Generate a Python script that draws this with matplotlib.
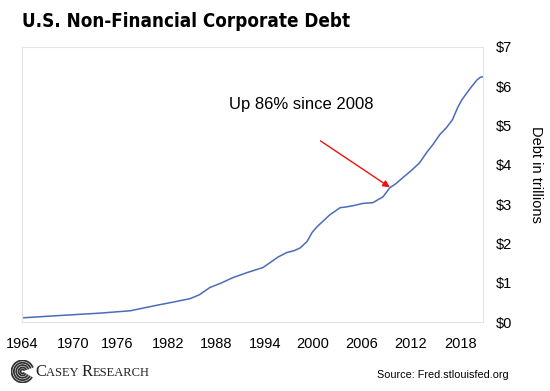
import matplotlib
matplotlib.use("Agg")
import matplotlib.pyplot as plt
from matplotlib.patches import Arc
from matplotlib.offsetbox import TextArea, HPacker, AnchoredOffsetbox

# debt in trillions of dollars
years = [1964.0, 1968.5, 1973.2, 1976.8, 1979.7, 1982.1, 1983.9, 1985.0, 1986.2,
         1987.6, 1988.9, 1990.6, 1992.5, 1993.3, 1994.3, 1995.3, 1996.2, 1996.9,
         1997.7, 1998.3, 1998.9, 2000.4, 2001.6, 2002.3, 2003.1, 2004.3, 2005.5,
         2006.7, 2007.5, 2008.2, 2009.0, 2010.0, 2011.0, 2011.9, 2012.6, 2013.4,
         2014.2, 2014.9, 2015.5, 2016.0, 2016.6, 2017.2, 2017.8, 2018.2, 2018.5]
debt = [0.11, 0.17, 0.23, 0.29, 0.42, 0.52, 0.60, 0.70, 0.88,
        1.00, 1.13, 1.26, 1.39, 1.51, 1.66, 1.77, 1.82, 1.89,
        2.05, 2.28, 2.43, 2.73, 2.91, 2.93, 2.96, 3.02, 3.04,
        3.19, 3.42, 3.52, 3.67, 3.85, 4.05, 4.33, 4.52, 4.77,
        4.95, 5.15, 5.45, 5.65, 5.83, 6.00, 6.16, 6.23, 6.24]

xlabels = ['1964', '1970', '1976', '1982', '1988', '1994', '2000', '2006', '2012', '2018']
xtick_pos = [1964.0, 1970.0, 1975.3, 1981.3, 1987.0, 1992.7, 1998.4, 2004.2, 2009.9, 2015.8]
yticks = [0, 1, 2, 3, 4, 5, 6, 7]

plt.rcParams['font.family'] = ['Liberation Sans', 'DejaVu Sans']

fig = plt.figure(figsize=(5.5, 3.91), dpi=100)
ax = fig.add_axes([0.04, 0.176, 0.838, 0.704])

ax.plot(years, debt, color='#4a6cb8', lw=1.1)

ax.set_xlim(1964, 2018.5)
ax.set_ylim(0, 7)
ax.set_xticks(xtick_pos)
ax.set_xticklabels(xlabels, fontsize=10.5)
ax.set_yticks(yticks)
ax.set_yticklabels(['$%d' % v for v in yticks], fontsize=10.5)
ax.yaxis.tick_right()
ax.tick_params(length=0, axis='y', pad=9)
ax.tick_params(length=0, axis='x', pad=11)
for s in ax.spines.values():
    s.set_color('#e4e4e4')
    s.set_linewidth(0.8)

fig.text(0.975, 0.555, 'Debt in trillions', rotation=-90, fontsize=10.5,
         ha='center', va='center')

# annotation
ax.annotate('Up 86% since 2008', xy=(2007.3, 3.35), xytext=(1997.0, 5.53),
            fontsize=12, ha='center', va='center')
ax.annotate('', xy=(2007.5, 3.43), xytext=(1999.3, 4.61),
            arrowprops=dict(arrowstyle='-|>', color='#ee1111', lw=1.0,
                            mutation_scale=10, shrinkA=0, shrinkB=0))

fig.text(0.04, 0.946, 'U.S. Non-Financial Corporate Debt', fontsize=13.5,
         fontweight='bold', ha='left', va='center',
         family='DejaVu Sans', fontstretch='condensed')

fig.text(0.925, 0.041, 'Source: Fred.stlouisfed.org', fontsize=7.8,
         ha='right', va='center')

# Casey Research logo
big = dict(fontsize=12, family='Liberation Serif', color='#222222')
small = dict(fontsize=9, family='Liberation Serif', color='#222222')
parts = [TextArea('C', textprops=big), TextArea('ASEY ', textprops=small),
         TextArea('R', textprops=big), TextArea('ESEARCH', textprops=small)]
box = HPacker(children=parts, align='baseline', pad=0, sep=0)
anchored = AnchoredOffsetbox(loc='center left', child=box, frameon=False,
                             bbox_to_anchor=(0.064, 0.049),
                             bbox_transform=fig.transFigure, pad=0, borderpad=0)
fig.add_artist(anchored)

lax = fig.add_axes([0.02, 0.02, 0.042, 0.06])
lax.set_xlim(-1, 1)
lax.set_ylim(-1, 1)
lax.set_aspect('equal')
lax.axis('off')
for r in [1.9, 1.5, 1.1, 0.7, 0.35]:
    lax.add_patch(Arc((0, 0), r, r, theta1=20, theta2=330, color='#333333', lw=1.3))

fig.savefig('out.png', dpi=100)
